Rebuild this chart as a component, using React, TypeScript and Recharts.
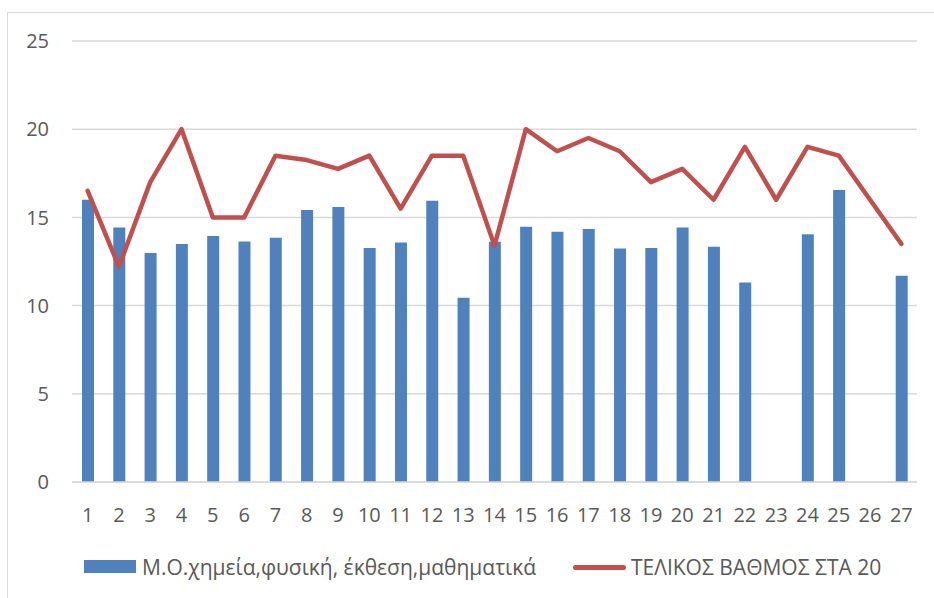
import { ComposedChart, Bar, Line, XAxis, YAxis, CartesianGrid } from 'recharts';

const students = ['1', '2', '3', '4', '5', '6', '7', '8', '9', '10', '11', '12', '13', '14', '15', '16', '17', '18', '19', '20', '21', '22', '23', '24', '25', '26', '27'];
const avgScores = [16.0, 14.43, 12.98, 13.49, 13.94, 13.64, 13.85, 15.42, 15.59, 13.26, 13.58, 15.95, 10.44, 13.62, 14.47, 14.19, 14.34, 13.24, 13.26, 14.43, 13.34, 11.31, null, 14.04, 16.55, null, 11.69];
const finalGrades = [16.5, 12.2, 17, 20, 15, 15, 18.5, 18.25, 17.75, 18.5, 15.5, 18.5, 18.5, 13.4, 20, 18.75, 19.5, 18.75, 17, 17.75, 16, 19, 16, 19, 18.5, 16, 13.5];
const yTicks = [0, 5, 10, 15, 20, 25];

const barName = 'Μ.Ο.χημεία,φυσική, έκθεση,μαθηματικά';
const lineName = 'ΤΕΛΙΚΟΣ ΒΑΘΜΟΣ ΣΤΑ 20';

const data = students.map((s, i) => ({ name: s, avg: avgScores[i], final: finalGrades[i] }));

const font = '"Open Sans", sans-serif';
const textColor = '#595959';

export default function App() {
  return (
    <div style={{ position: 'absolute', left: 0, top: 0, width: 934, height: 598, overflow: 'hidden', background: '#fff', fontFamily: font }}>
      <div style={{ position: 'absolute', left: 7, top: 12, width: 1000, height: 1000, borderTop: '1.5px solid #d9d9d9', borderLeft: '1.5px solid #d9d9d9' }} />
      <ComposedChart width={934} height={598} data={data} margin={{ top: 41, right: 17, left: 0, bottom: 0 }} style={{ position: 'absolute', left: 0, top: 0 }}>
        <CartesianGrid vertical={false} stroke="#d9d9d9" strokeWidth={1.5} />
        <XAxis
          dataKey="name"
          height={116}
          axisLine={{ stroke: '#d9d9d9', strokeWidth: 1.5 }}
          tickLine={false}
          tickSize={0}
          tickMargin={26}
          interval={0}
          tick={{ fontSize: 20, fill: textColor, fontFamily: font }}
        />
        <YAxis
          domain={[0, 25]}
          ticks={yTicks}
          width={72}
          axisLine={false}
          tickLine={false}
          tickSize={0}
          tickMargin={23}
          tick={{ fontSize: 20, fill: textColor, fontFamily: font }}
        />
        <Bar dataKey="avg" name={barName} fill="#4f81bd" barSize={12} isAnimationActive={false} />
        <Line
          dataKey="final"
          name={lineName}
          type="linear"
          stroke="#c0504d"
          strokeWidth={4.5}
          strokeLinejoin="round"
          strokeLinecap="round"
          dot={false}
          activeDot={false}
          isAnimationActive={false}
        />
      </ComposedChart>
      <div style={{ position: 'absolute', left: 84, top: 560, width: 52, height: 13, background: '#4f81bd' }} />
      <div style={{ position: 'absolute', left: 142, top: 553, fontSize: 21, lineHeight: '28px', color: textColor, whiteSpace: 'nowrap' }}>{barName}</div>
      <div style={{ position: 'absolute', left: 573, top: 564.5, width: 53, height: 5, borderRadius: 3, background: '#c0504d' }} />
      <div style={{ position: 'absolute', left: 631, top: 553, fontSize: 21, lineHeight: '28px', color: textColor, whiteSpace: 'nowrap' }}>{lineName}</div>
    </div>
  );
}
